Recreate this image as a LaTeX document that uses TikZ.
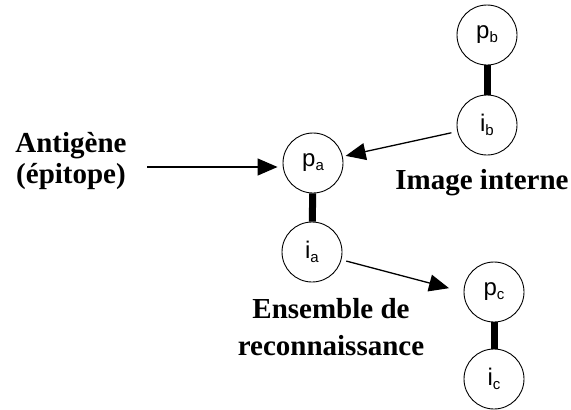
\documentclass[tikz,border=0pt]{standalone}
\usepackage{fontspec}
\setmainfont{Liberation Serif}
\newfontfamily\sansfont{Liberation Sans}
\usetikzlibrary{arrows.meta}
\newcommand{\idio}[2]{{\sansfont\fontsize{24}{24}\selectfont #1\raisebox{-3.5pt}{\fontsize{15}{15}\selectfont #2}}}

\begin{document}
\begin{tikzpicture}[x=1pt, y=-1pt,
  idiotype/.style={draw, circle, line width=.9pt, minimum size=60pt, inner sep=0},
  link/.style={line width=7pt},
  arr/.style={line width=1.3pt, -{Triangle[length=20pt, width=17pt]}},
  caption/.style={font=\bfseries\fontsize{29}{31}\selectfont, align=center, inner sep=0}]
\useasboundingbox (0,0) rectangle (571,410);
\node[idiotype] (pb) at (487,35) {\idio{p}{b}};
\node[idiotype] (ib) at (487,125) {\idio{i}{b}};
\node[idiotype] (pa) at (313,163) {\idio{p}{a}};
\node[idiotype] (ia) at (312,252) {\idio{i}{a}};
\node[idiotype] (pc) at (494,292) {\idio{p}{c}};
\node[idiotype] (ic) at (494,379) {\idio{i}{c}};
\draw[link] (pb) -- (ib);
\draw[link] (pa) -- (ia);
\draw[link] (pc) -- (ic);
\node[caption] (antigen) at (71,161) {Antigène\\(épitope)};
\node[caption] (internal) at (482,183) {Image interne};
\node[caption] (ensemble) at (331,327) {Ensemble de\\[6pt]reconnaissance};
\coordinate (src) at (147,167);
\draw[arr, shorten >=5pt] (src) -- (src -| pa.west);
\draw[arr, shorten <=6pt, shorten >=3pt] (ib) -- (pa);
\draw[arr, shorten <=5pt, shorten >=15pt] (ia) -- (pc.west);
\end{tikzpicture}
\end{document}
